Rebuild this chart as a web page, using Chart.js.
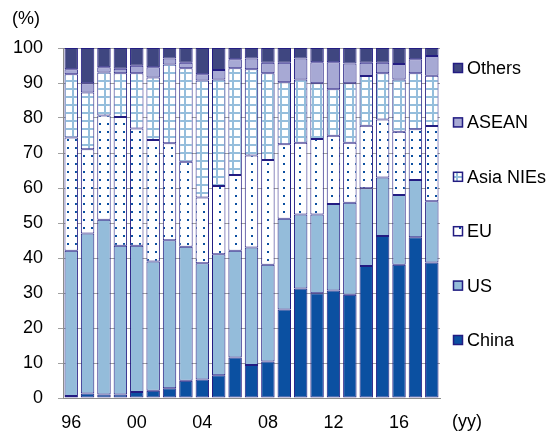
<!DOCTYPE html>
<html>
<head>
<meta charset="utf-8">
<script src="https://cdn.jsdelivr.net/npm/chart.js@4/dist/chart.umd.min.js"></script>
<style>
  body { margin: 0; background: #fff; }
  #wrap { width: 556px; height: 434px; }
</style>
</head>
<body>
<div id="wrap"><canvas id="share-chart" width="556" height="434"></canvas></div>
<script>
// Years, two-digit labels
const years = ['96', '97', '98', '99', '00', '01', '02', '03', '04', '05', '06', '07',
               '08', '09', '10', '11', '12', '13', '14', '15', '16', '17', '18'];
const shownYears = ['96', '00', '04', '08', '12', '16'];

// Share by partner (%)
const china  = [0.6, 1.3, 1.0, 1.0, 1.7, 2.1, 2.8, 4.9, 5.3, 6.5, 11.6, 9.4, 10.4, 25.3, 31.3, 29.9, 30.7, 29.5, 37.7, 46.3, 38.1, 45.9, 38.7];
const us     = [41.5, 45.7, 49.9, 42.5, 41.8, 36.9, 42.3, 38.3, 33.2, 34.6, 30.5, 33.6, 27.7, 25.9, 21.1, 22.5, 24.7, 26.3, 22.2, 16.7, 19.9, 16.4, 17.5];
const eu     = [32.3, 24.1, 29.8, 36.8, 33.5, 34.7, 27.7, 24.3, 18.8, 19.5, 21.6, 26.3, 29.9, 21.3, 20.5, 21.6, 19.5, 17.1, 17.9, 16.6, 18.1, 14.5, 21.5];
const nies   = [18.1, 16.2, 12.3, 12.5, 15.8, 17.9, 22.5, 26.7, 33.4, 30.4, 30.5, 24.6, 24.8, 17.7, 18.1, 15.9, 13.3, 17.0, 14.2, 13.2, 14.9, 16.0, 14.4];
const asean  = [1.4, 2.6, 1.5, 1.3, 2.1, 2.9, 1.7, 1.6, 1.8, 2.7, 2.6, 3.1, 3.0, 5.6, 6.0, 6.0, 7.7, 5.7, 3.8, 3.0, 4.4, 4.0, 5.6];
const others = [6.1, 10.1, 5.5, 5.9, 5.1, 5.5, 3.0, 4.2, 7.5, 6.3, 3.2, 3.0, 4.2, 4.2, 3.0, 4.1, 4.1, 4.4, 4.2, 4.2, 4.6, 3.2, 2.3];

const yTicks = [0, 10, 20, 30, 40, 50, 60, 70, 80, 90, 100];

const FONT = '"Liberation Sans", Arial, sans-serif';
const EDGE = '#231c82';

// Small tiles for the hatched fills
function dotPattern() {
    const c = document.createElement('canvas');
    c.width = 8; c.height = 8;
    const g = c.getContext('2d');
    g.fillStyle = '#ffffff';
    g.fillRect(0, 0, 8, 8);
    g.fillStyle = '#0b4fa0';
    g.fillRect(3, 3, 2, 2);
    return g.createPattern(c, 'repeat');
}

function gridPattern() {
    const c = document.createElement('canvas');
    c.width = 8; c.height = 8;
    const g = c.getContext('2d');
    g.fillStyle = '#ffffff';
    g.fillRect(0, 0, 8, 8);
    g.fillStyle = '#95bedc';
    g.fillRect(0, 0, 8, 2);
    g.fillRect(0, 0, 2, 8);
    return g.createPattern(c, 'repeat');
}

function series(label, data, fill) {
    return {
        label: label,
        data: data,
        backgroundColor: fill,
        borderColor: EDGE,
        borderWidth: 1,
        borderSkipped: false,
        barPercentage: 0.82,
        categoryPercentage: 1.0
    };
}

// Legend on the right, top item is the last stacked series
const sideLegend = {
    id: 'sideLegend',
    afterDraw(chart) {
        const ctx = chart.ctx;
        const area = chart.chartArea;
        const sets = chart.data.datasets.slice().reverse();
        ctx.save();
        ctx.font = '18px ' + FONT;
        ctx.textBaseline = 'middle';
        ctx.fillStyle = '#000';
        sets.forEach((ds, k) => {
            const cy = area.top + 20 + k * 54.4;
            const bx = area.right + 13;
            ctx.fillStyle = ds.backgroundColor;
            ctx.fillRect(bx, cy - 5, 10, 10);
            ctx.strokeStyle = EDGE;
            ctx.lineWidth = 1.5;
            ctx.strokeRect(bx + 0.5, cy - 4.5, 9, 9);
            ctx.fillStyle = '#000';
            ctx.textAlign = 'left';
            ctx.fillText(ds.label, area.right + 27, cy + 1);
        });

        // unit captions
        ctx.textAlign = 'left';
        ctx.fillText('(%)', 12, 19);
        ctx.fillText('(yy)', area.right + 12, 422);
        ctx.restore();
    }
};

new Chart(document.getElementById('share-chart'), {
    type: 'bar',
    data: {
        labels: years,
        datasets: [
            series('China', china, '#0b50a1'),
            series('US', us, '#94bcda'),
            series('EU', eu, dotPattern()),
            series('Asia NIEs', nies, gridPattern()),
            series('ASEAN', asean, '#a7a9d4'),
            series('Others', others, '#3f4680')
        ]
    },
    options: {
        responsive: false,
        animation: false,
        devicePixelRatio: 1,
        layout: { padding: { left: 0, right: 116, top: 48, bottom: 0 } },
        plugins: {
            legend: { display: false },
            tooltip: { enabled: false }
        },
        scales: {
            x: {
                stacked: true,
                afterFit: (scale) => { scale.height = 36; },
                grid: { display: false },
                border: { display: true, color: '#8c8c8c', width: 1 },
                ticks: {
                    autoSkip: false,
                    maxRotation: 0,
                    padding: 6,
                    color: '#000',
                    font: { family: FONT, size: 18 },
                    callback: function (value) {
                        const lab = this.getLabelForValue(value);
                        return shownYears.includes(lab) ? lab : '';
                    }
                }
            },
            y: {
                stacked: true,
                min: 0,
                max: 100,
                afterFit: (scale) => { scale.width = 63; },
                afterBuildTicks: (scale) => { scale.ticks = yTicks.map(v => ({ value: v })); },
                grid: { color: '#a0a0a0', tickLength: 5 },
                border: { display: true, color: '#8c8c8c', width: 1 },
                ticks: {
                    padding: 15,
                    color: '#000',
                    font: { family: FONT, size: 18 }
                }
            }
        }
    },
    plugins: [sideLegend]
});
</script>
</body>
</html>
